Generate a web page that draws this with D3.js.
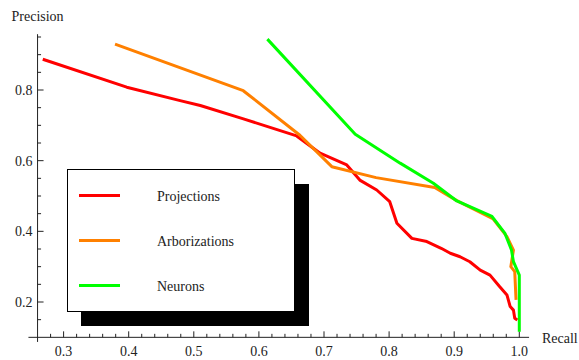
<!DOCTYPE html>
<meta charset="utf-8">
<title>Precision / Recall</title>
<style>
	body { margin: 0; background: #fff; }
	svg text { font-family: 'Liberation Serif', 'Times New Roman', serif; font-size: 14px; fill: #222; }
</style>
<body>
<div id="chart"></div>
<script src="https://d3js.org/d3.v7.min.js"></script>
<script>
// series: [recall, precision]
var projections = [
	[0.268, 0.887], [0.397, 0.808], [0.479, 0.770], [0.510, 0.756], [0.575, 0.719],
	[0.658, 0.670], [0.694, 0.621], [0.735, 0.588], [0.755, 0.545], [0.781, 0.517],
	[0.801, 0.484], [0.812, 0.423], [0.835, 0.380], [0.858, 0.371], [0.880, 0.352],
	[0.894, 0.338], [0.909, 0.328], [0.924, 0.314], [0.940, 0.290], [0.955, 0.276],
	[0.970, 0.243], [0.981, 0.220], [0.986, 0.187], [0.991, 0.177], [0.993, 0.154],
	[0.997, 0.149]
];
var arborizations = [
	[0.379, 0.930], [0.576, 0.798], [0.663, 0.672], [0.712, 0.583], [0.780, 0.552],
	[0.870, 0.524], [0.904, 0.487], [0.960, 0.435], [0.981, 0.385], [0.991, 0.347],
	[0.987, 0.300], [0.993, 0.286], [0.995, 0.206]
];
var neurons = [
	[0.613, 0.944], [0.748, 0.675], [0.817, 0.593], [0.868, 0.536], [0.904, 0.486],
	[0.958, 0.442], [0.978, 0.394], [0.988, 0.347], [0.991, 0.314], [1.000, 0.276],
	[1.000, 0.116]
];
var seriesNames = ["Projections", "Arborizations", "Neurons"];
var seriesColors = ["#ff0000", "#ff8000", "#00ff00"];
var xTicks = [0.3, 0.4, 0.5, 0.6, 0.7, 0.8, 0.9, 1.0];
var yTicks = [0.2, 0.4, 0.6, 0.8];

var width = 579, height = 360;
var svg = d3.select("#chart").append("svg")
	.attr("width", width)
	.attr("height", height);

var x = d3.scaleLinear().domain([0.3, 1.0]).range([63.6, 519.3]);
var y = d3.scaleLinear().domain([0.2, 0.8]).range([302, 90]);

// axes cross at (0.26, 0.1)
var x0 = 0.26, y0 = 0.1;
var axis = svg.append("g").attr("stroke", "#222").attr("stroke-width", 1);
axis.append("line")
	.attr("x1", x(0.246)).attr("x2", x(1.015))
	.attr("y1", y(y0)).attr("y2", y(y0));
axis.append("line")
	.attr("x1", x(x0)).attr("x2", x(x0))
	.attr("y1", y(0.958)).attr("y2", y(0.087));

// x ticks, every 0.02
d3.range(0.28, 1.011, 0.02).forEach(function (v) {
	var major = Math.abs(Math.round(v * 10) - v * 10) < 0.01;
	axis.append("line")
		.attr("x1", x(v)).attr("x2", x(v))
		.attr("y1", y(y0)).attr("y2", y(y0) - (major ? 6 : 3.5));
});
// y ticks, every 0.05
d3.range(0.15, 0.96, 0.05).forEach(function (v) {
	var major = Math.abs(Math.round(v * 5) - v * 5) < 0.01;
	axis.append("line")
		.attr("x1", x(x0)).attr("x2", x(x0) + (major ? 6 : 3.5))
		.attr("y1", y(v)).attr("y2", y(v));
});

svg.selectAll(".xlab").data(xTicks).enter().append("text")
	.attr("class", "xlab")
	.attr("x", function (d) { return x(d); })
	.attr("y", 356)
	.attr("text-anchor", "middle")
	.text(function (d) { return d.toFixed(1); });

svg.selectAll(".ylab").data(yTicks).enter().append("text")
	.attr("class", "ylab")
	.attr("x", 32.5)
	.attr("y", function (d) { return y(d) + 5; })
	.attr("text-anchor", "end")
	.text(function (d) { return d.toFixed(1); });

svg.append("text").attr("x", 11.5).attr("y", 21).text("Precision");
svg.append("text").attr("x", 542).attr("y", 343).text("Recall");

// curves
var line = d3.line()
	.x(function (d) { return x(d[0]); })
	.y(function (d) { return y(d[1]); });

[projections, arborizations, neurons].forEach(function (s, i) {
	svg.append("path")
		.datum(s)
		.attr("d", line)
		.attr("fill", "none")
		.attr("stroke", seriesColors[i])
		.attr("stroke-width", 3)
		.attr("stroke-linejoin", "round");
});

// legend with drop shadow
var legend = svg.append("g");
legend.append("rect")
	.attr("x", 81).attr("y", 184).attr("width", 228).attr("height", 142)
	.attr("fill", "#000");
legend.append("rect")
	.attr("x", 67.5).attr("y", 169.5).attr("width", 227).attr("height", 142)
	.attr("fill", "#fff").attr("stroke", "#000").attr("stroke-width", 1);

var items = legend.selectAll(".item").data(seriesNames).enter().append("g")
	.attr("class", "item")
	.attr("transform", function (d, i) { return "translate(0," + (195.5 + i * 45) + ")"; });
items.append("line")
	.attr("x1", 79).attr("x2", 120)
	.attr("stroke", function (d, i) { return seriesColors[i]; })
	.attr("stroke-width", 3);
items.append("text")
	.attr("x", 157)
	.attr("y", 5)
	.text(function (d) { return d; });
</script>
</body>
